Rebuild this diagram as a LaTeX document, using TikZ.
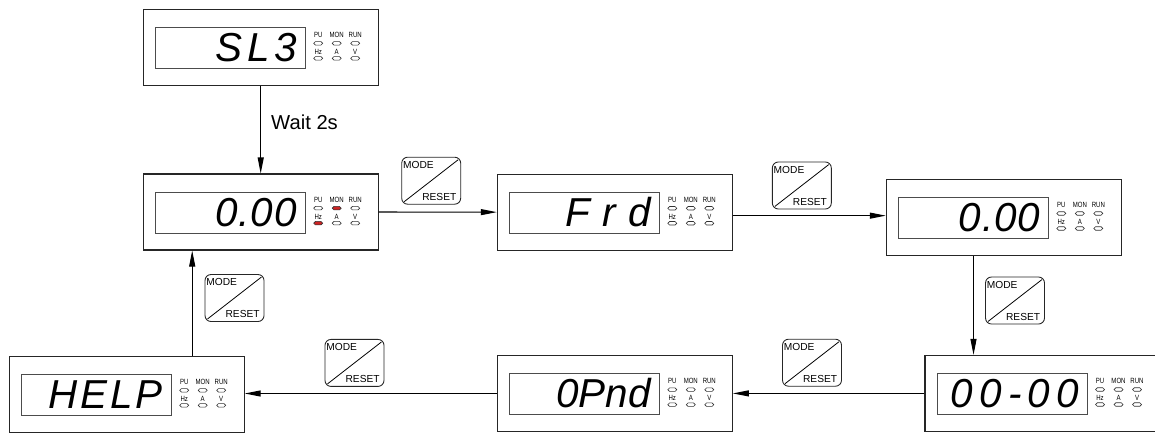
\documentclass[tikz,border=0pt]{standalone}
\usepackage{fontspec}
\setmainfont{Liberation Sans}
\newfontfamily\segfont{Liberation Sans}
\newfontfamily\indfont[FakeStretch=0.8]{Liberation Sans}
\usepackage{tikz}
\usetikzlibrary{arrows.meta,positioning,calc}
\definecolor{ledred}{RGB}{205,35,35}

\begin{document}
\begin{tikzpicture}[
  panel/.style={draw=black!85, line width=0.6pt, minimum width=4.7cm,
                minimum height=1.52cm, inner sep=0pt},
  screen/.style={draw=black!70, line width=0.5pt, minimum width=3.01cm,
                 minimum height=0.82cm, inner sep=0pt},
  segtext/.style={font=\segfont\itshape\fontsize{23}{23}\selectfont,
                  inner sep=0pt, anchor=base east},
  ind/.style={font=\indfont\fontsize{4.3}{4.3}\selectfont, inner sep=0pt},
  led/.style={draw=black!80, fill=white, line width=0.35pt, rounded corners=0.035cm,
              minimum width=0.18cm, minimum height=0.07cm, inner sep=0pt},
  modekey/.style={draw=black!85, line width=0.5pt, rounded corners=0.12cm,
                  minimum width=1.18cm, minimum height=0.94cm, inner sep=0pt},
  keytxt/.style={font=\fontsize{5.8}{6}\selectfont, inner sep=0pt},
  arr/.style={-{Triangle[length=3.2mm,width=1.2mm]}, line width=0.6pt},
  every node/.style={align=center}
]
\clip (0,0) rectangle (23.1,-8.66);

%% Keypad displays
\foreach \n/\x/\y/\txt/\spc/\lit in {sl3/5.214/-0.944/SL3/11/white,
    hz0/5.214/-4.24/0.00/2/ledred, frd/12.296/-4.243/Frd/30/white,
    hz1/20.076/-4.346/0.00/2/white, par/20.85/-7.868/00-00/15/white,
    opnd/12.296/-7.87/0Pnd/0/white, help/2.534/-7.884/HELP/7/white}{
  \node[panel] (\n) at (\x,\y) {};
  \node[screen] (\n-s) at ($(\n.center)+(-0.606,-0.013)$) {};
  \node[segtext] (\n-t) at ($(\n-s.east)+(-0.18,-0.27)$)
       {\addfontfeature{LetterSpace=\spc}\txt};
  \foreach \lab/\dx [count=\k] in {PU/1.15, MON/1.52, RUN/1.89}
    \node[ind] (\n-u\k) at ($(\n.center)+(\dx,0.243)$) {\lab};
  \foreach \lab/\dx [count=\k] in {Hz/1.15, A/1.52, V/1.89}
    \node[ind] (\n-w\k) at ($(\n.center)+(\dx,-0.097)$) {\lab};
  \node[led] (\n-a1) at ($(\n.center)+(1.15,0.077)$) {};
  \node[led, fill=\lit] (\n-a2) at ($(\n.center)+(1.52,0.077)$) {};
  \node[led] (\n-a3) at ($(\n.center)+(1.89,0.077)$) {};
  \node[led, fill=\lit] (\n-b1) at ($(\n.center)+(1.15,-0.223)$) {};
  \node[led] (\n-b2) at ($(\n.center)+(1.52,-0.223)$) {};
  \node[led] (\n-b3) at ($(\n.center)+(1.89,-0.223)$) {};
}

%% MODE/RESET keys
\foreach \b/\x/\y in {k1/8.624/-3.614, k2/16.036/-3.71, k3/20.3/-6.01,
    k4/4.69/-5.96, k5/7.09/-7.258, k6/16.24/-7.254}{
  \node[modekey] (\b) at (\x,\y) {};
  \draw[line width=0.45pt] ([shift={(0.06,0.06)}]\b.south west)
    -- ([shift={(-0.06,-0.06)}]\b.north east);
  \node[keytxt, anchor=north west] (\b-m) at ([shift={(0.03,-0.08)}]\b.north west) {MODE};
  \node[keytxt, anchor=south east] (\b-r) at ([shift={(-0.09,0.07)}]\b.south east) {RESET};
}

%% Connectors
\draw[arr] (sl3.south) -- (hz0.north)
  node[pos=0.42, right=0.2cm, inner sep=0pt, font=\fontsize{11.5}{13}\selectfont] (wait) {Wait 2s};
\draw[arr] (hz0.east) -- (frd.west);
\draw[arr] ([yshift=-0.07cm]frd.east) -- ([yshift=-0.07cm]frd.east -| hz1.west);
\draw[arr] (hz1-s |- hz1.south) -- (hz1-s |- par.north);
\draw[arr] (par.west) -- (par.west -| opnd.east);
\draw[arr] (opnd.west) -- (opnd.west -| help.east);
\draw[arr] ([xshift=1.31cm]help.north) -- ([xshift=1.31cm]help.north |- hz0.south);

\end{tikzpicture}
\end{document}
